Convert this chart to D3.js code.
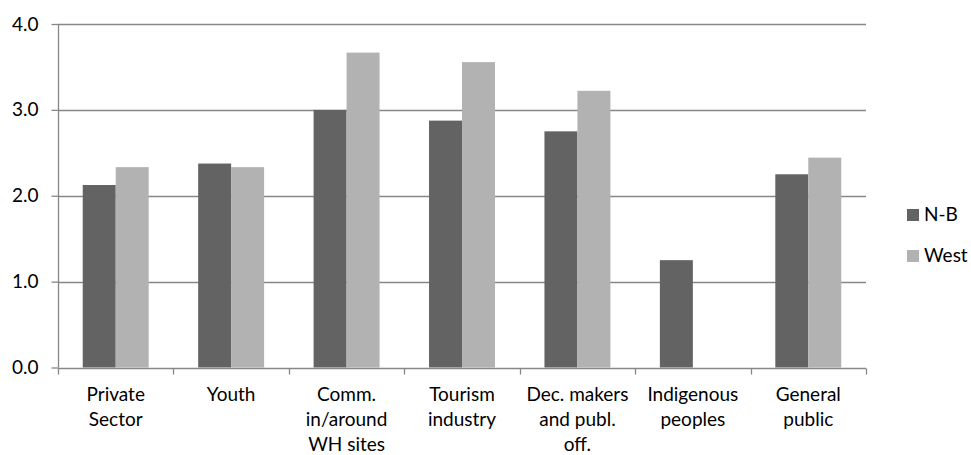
<!DOCTYPE html>
<html>
<head>
<meta charset="utf-8">
<script src="https://cdn.jsdelivr.net/npm/d3@7"></script>
<style>
  html, body { margin: 0; padding: 0; background: #fff; }
  svg { display: block; }
  text { font-family: Lato, "Open Sans", sans-serif; fill: #000; }
</style>
</head>
<body>
<div id="chart"></div>
<script>
const categories = [
  ["Private", "Sector"],
  ["Youth"],
  ["Comm.", "in/around", "WH sites"],
  ["Tourism", "industry"],
  ["Dec. makers", "and publ.", "off."],
  ["Indigenous", "peoples"],
  ["General", "public"]
];
const seriesNames = ["N-B", "West"];
const nbValues = [2.125, 2.375, 3.0, 2.875, 2.75, 1.25, 2.25];
const westValues = [2.333, 2.333, 3.667, 3.556, 3.222, null, 2.444];
const yTicks = [0, 1, 2, 3, 4];
const colors = ["#636363", "#b2b2b2"];

const W = 971, H = 455;
const mLeft = 58, mRight = 866, mTop = 24, mBottom = 367.5;
const fontSize = 19;

const svg = d3.select("#chart").append("svg").attr("width", W).attr("height", H);

const catIdx = categories.map((d, i) => i);
const x = d3.scaleBand().domain(catIdx).range([mLeft, mRight]).paddingInner(0).paddingOuter(0);
const inner = d3.scaleBand().domain([0, 1]).range([0, x.bandwidth()]).paddingOuter(0.75).paddingInner(0);
const y = d3.scaleLinear().domain([0, 4]).range([mBottom, mTop]);

// gridlines
svg.append("g").selectAll("line").data(yTicks.filter(t => t > 0)).join("line")
  .attr("x1", mLeft).attr("x2", mRight)
  .attr("y1", d => Math.round(y(d)) + 0.5).attr("y2", d => Math.round(y(d)) + 0.5)
  .attr("stroke", "#878787").attr("stroke-width", 1.3);

// bars
const data = [];
catIdx.forEach(i => {
  [nbValues[i], westValues[i]].forEach((v, s) => {
    if (v != null) data.push({ i, s, v });
  });
});
svg.append("g").selectAll("rect").data(data).join("rect")
  .attr("x", d => x(d.i) + inner(d.s))
  .attr("width", inner.bandwidth())
  .attr("y", d => y(d.v))
  .attr("height", d => y(0) - y(d.v))
  .attr("fill", d => colors[d.s]);

// y axis
const yAxis = d3.axisLeft(y).tickValues(yTicks).tickFormat(d3.format(".1f")).tickSize(7).tickPadding(13);
const gy = svg.append("g").attr("transform", `translate(${mLeft + 0.5},0)`).call(yAxis);
gy.select(".domain").attr("stroke", "#878787").attr("stroke-width", 1.3).attr("d", `M0,${y(4)}V${y(0)}`);
gy.selectAll(".tick line").attr("stroke", "#878787").attr("stroke-width", 1.3);
gy.selectAll(".tick text").attr("font-size", fontSize).attr("font-family", "Lato, sans-serif").attr("fill", "#000");

// x axis
const xAxis = d3.axisBottom(x).tickValues([]).tickSize(0);
const gx = svg.append("g").attr("transform", `translate(0,${Math.round(mBottom) + 0.5})`).call(xAxis);
gx.select(".domain").attr("stroke", "#878787").attr("stroke-width", 1.3).attr("d", `M${mLeft},0H${mRight}`);
const boundaries = catIdx.map(i => x(i)).concat([mRight]);
gx.selectAll("line.sep").data(boundaries).join("line").attr("class", "sep")
  .attr("x1", d => Math.round(d) + 0.5).attr("x2", d => Math.round(d) + 0.5)
  .attr("y1", 0).attr("y2", 6).attr("stroke", "#878787").attr("stroke-width", 1.3);

const lbl = svg.append("g");
categories.forEach((lines, i) => {
  const t = lbl.append("text")
    .attr("x", x(i) + x.bandwidth() / 2)
    .attr("y", 401)
    .attr("text-anchor", "middle")
    .attr("font-size", fontSize);
  lines.forEach((ln, k) => {
    t.append("tspan").attr("x", x(i) + x.bandwidth() / 2).attr("y", 401 + k * 25).text(ln);
  });
});

// legend
const lg = svg.append("g");
seriesNames.forEach((name, s) => {
  const yy = 209 + s * 41;
  lg.append("rect").attr("x", 907).attr("y", yy).attr("width", 12).attr("height", 12).attr("fill", colors[s]);
  lg.append("text").attr("x", 924).attr("y", yy + 12).attr("font-size", fontSize).text(name);
});
</script>
</body>
</html>
